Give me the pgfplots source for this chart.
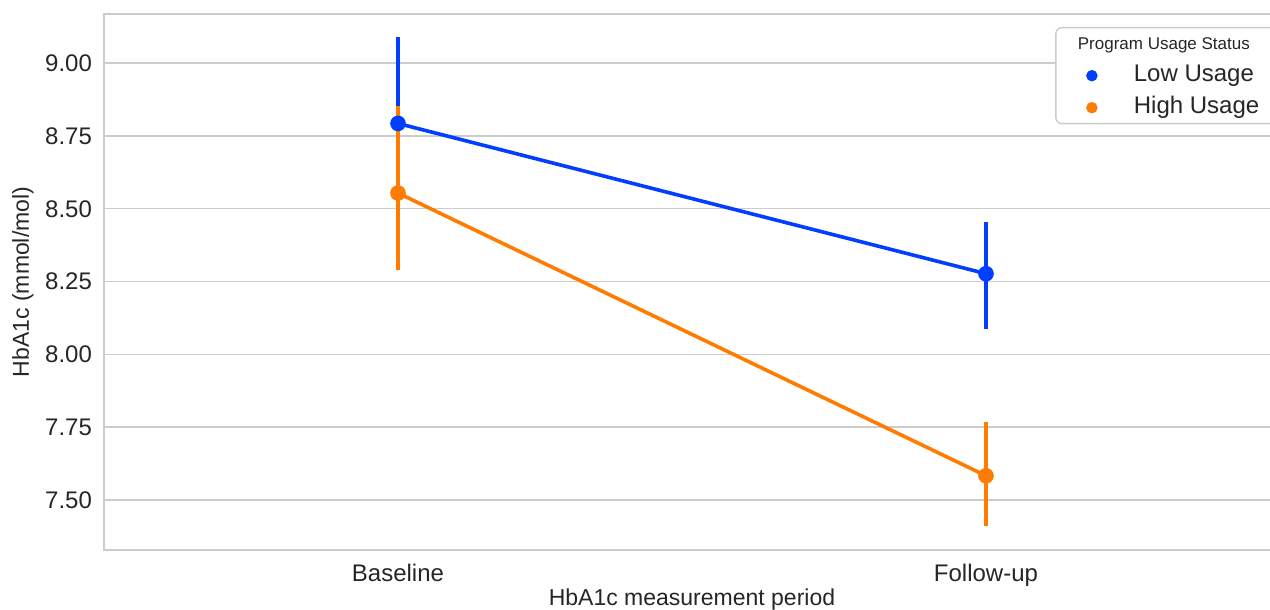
\documentclass[border=0pt]{standalone}
\usepackage{fontspec}
\setmainfont{Liberation Sans}
\usepackage{pgfplots}
\usepackage{pgfplotstable}
\pgfplotsset{compat=1.18}
\definecolor{sbblue}{HTML}{023EFF}
\definecolor{sborange}{HTML}{FF7C00}
\definecolor{gridc}{HTML}{CCCCCC}
\definecolor{txt}{HTML}{262626}
\pgfplotstableread{
x y ep em
0 8.793 0.296 0.296
1 8.277 0.176 0.191
}\lowusage
\pgfplotstableread{
x y ep em
0 8.554 0.299 0.263
1 7.583 0.185 0.173
}\highusage
\begin{document}
\begin{tikzpicture}
\begin{axis}[
  at={(0,0)}, anchor=south west,
  scale only axis, width=588pt, height=268pt,
  xmin=-0.5, xmax=1.5, ymin=7.328, ymax=9.169,
  xtick={0,1}, xticklabels={Baseline,Follow-up},
  ytick={7.5,7.75,8,8.25,8.5,8.75,9},
  /pgf/number format/.cd, fixed, fixed zerofill, precision=2, assume math mode=true,
  /pgfplots/.cd,
  ymajorgrids, grid style={gridc, line width=0.7pt},
  axis line style={gridc, line width=0.8pt},
  major tick length=0pt,
  tick label style={font=\fontsize{12}{14}\selectfont, text=txt},
  xticklabel style={yshift=-3.5pt},
  yticklabel style={xshift=-2.5pt},
  xlabel={HbA1c measurement period},
  ylabel={HbA1c (mmol/mol)},
  label style={font=\fontsize{11.5}{13}\selectfont, text=txt},
  xlabel style={at={(axis description cs:0.5,-0.0933)}, anchor=center},
  ylabel style={at={(axis description cs:-0.069,0.5)}, anchor=center},
  legend image code/.code={\draw[#1] plot coordinates {(0pt,0pt)};},
  legend cell align=left,
  legend style={at={(axis description cs:1,1)}, anchor=north east,
    xshift=5.5pt, yshift=-6.5pt,
    draw=gridc, line width=0.7pt, rounded corners=3pt, fill=white,
    inner xsep=15.5pt, inner ysep=2pt,
    column sep=18.5pt, row sep=4pt,
    nodes={inner sep=0pt, text height=9pt, text depth=3pt, text=txt,
      font=\fontsize{12}{14}\selectfont}},
]
\addplot[sbblue, line width=1.8pt, mark=*, mark size=3pt, forget plot,
  error bars/.cd, y dir=both, y explicit, error mark=none,
  error bar style={line width=1.7pt, sbblue}]
  table[x=x, y=y, y error plus=ep, y error minus=em] {\lowusage};
\addplot[sborange, line width=1.8pt, mark=*, mark size=3pt, forget plot,
  error bars/.cd, y dir=both, y explicit, error mark=none,
  error bar style={line width=1.7pt, sborange}]
  table[x=x, y=y, y error plus=ep, y error minus=em] {\highusage};
\addlegendimage{empty legend}
\addlegendentry{\hspace{-28pt}\fontsize{8.5}{10}\selectfont Program Usage Status}
\addlegendimage{only marks, mark=*, mark size=2.5pt, sbblue}
\addlegendentry{Low Usage}
\addlegendimage{only marks, mark=*, mark size=2.5pt, sborange}
\addlegendentry{High Usage}
\end{axis}
\pgfresetboundingbox
\useasboundingbox (-52pt,-30pt) rectangle (583pt,275pt);
\end{tikzpicture}
\end{document}
